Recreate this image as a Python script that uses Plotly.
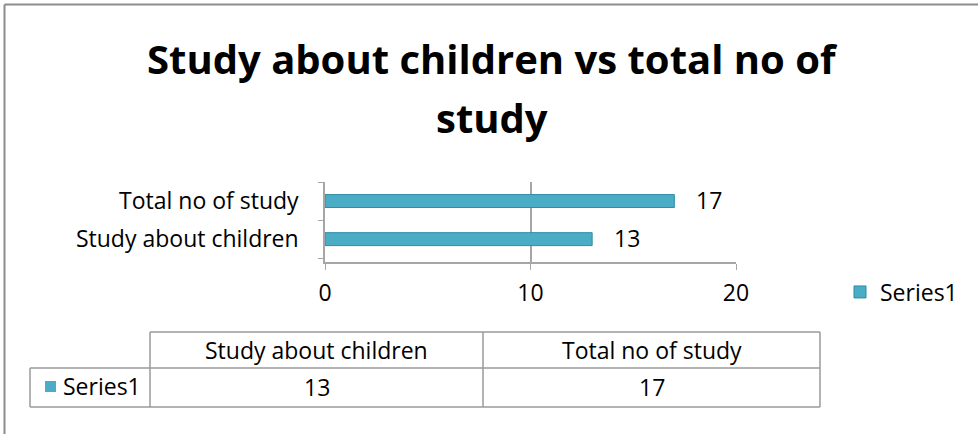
import plotly.graph_objects as go

categories = ["Study about children", "Total no of study"]
values = [13, 17]
series_name = "Series1"
title_lines = ["Study about children vs total no of", "study"]
x_ticks = [0, 10, 20]

BAR = "#4BACC6"
GRID = "#A6A6A6"
FONT = "Open Sans"
FS = 23

L, R, T, B = 325, 736, 182, 262
W, H = 978, 434

def px(x):
    return (x - L) / (R - L)

def py(y):
    return (B - y) / (B - T)

fig = go.Figure()
fig.add_trace(go.Bar(
    y=categories, x=values, orientation="h", name=series_name,
    marker=dict(color=BAR, line=dict(color="#2F8CA6", width=1)),
    width=0.34, showlegend=True, hoverinfo="x+y",
))

shapes = []
# outer frame (left and top)
shapes.append(dict(type="line", xref="paper", yref="paper", x0=px(4.5), x1=px(978), y0=py(4.5), y1=py(4.5), line=dict(color="#8C8C8C", width=2)))
shapes.append(dict(type="line", xref="paper", yref="paper", x0=px(4.5), x1=px(4.5), y0=py(4.5), y1=py(434), line=dict(color="#8C8C8C", width=2)))

# data table
tcol = "#9A9A9A"
def hline(x0, x1, y):
    shapes.append(dict(type="line", xref="paper", yref="paper", x0=px(x0), x1=px(x1), y0=py(y), y1=py(y), line=dict(color=tcol, width=1.5)))
def vline(x, y0, y1):
    shapes.append(dict(type="line", xref="paper", yref="paper", x0=px(x), x1=px(x), y0=py(y0), y1=py(y1), line=dict(color=tcol, width=1.5)))
hline(150, 820, 332)
hline(30, 820, 368)
hline(30, 820, 407)
vline(30, 368, 407)
vline(150, 332, 407)
vline(483, 332, 407)
vline(820, 332, 407)
# legend key in table
shapes.append(dict(type="rect", xref="paper", yref="paper", x0=px(45), x1=px(56), y0=py(381), y1=py(392), fillcolor=BAR, line=dict(width=0)))

annotations = []
# data labels
for c, v in zip(categories, values):
    annotations.append(dict(text=str(v), x=v, y=c, xref="x", yref="y", showarrow=False, xanchor="left", yanchor="middle",
                            xshift=20, yshift=1, font=dict(size=FS, family=FONT, color="#000000")))

annotations.append(dict(text="<b>%s</b>" % title_lines[0], x=px(492), y=py(58), xref="paper", yref="paper", showarrow=False, font=dict(size=40, family=FONT, color="#000000"), xanchor="center", yanchor="middle"))
annotations.append(dict(text="<b>%s</b>" % title_lines[1], x=px(492), y=py(117), xref="paper", yref="paper", showarrow=False, font=dict(size=40, family=FONT, color="#000000"), xanchor="center", yanchor="middle"))

col_centers = [316.5, 651.5]
for c, v, cx in zip(categories, values, col_centers):
    annotations.append(dict(text=c, x=px(cx), y=py(350), xref="paper", yref="paper", showarrow=False, font=dict(size=FS, family=FONT, color="#000000"), xanchor="center", yanchor="middle"))
    annotations.append(dict(text=str(v), x=px(cx), y=py(387), xref="paper", yref="paper", showarrow=False, font=dict(size=FS, family=FONT, color="#000000"), xanchor="center", yanchor="middle"))
annotations.append(dict(text=series_name, x=px(61), y=py(386), xref="paper", yref="paper", showarrow=False, font=dict(size=FS, family=FONT, color="#000000"), xanchor="left", yanchor="middle"))

fig.update_layout(
    width=W, height=H,
    margin=dict(l=L, r=W - R, t=T, b=H - B, pad=0),
    paper_bgcolor="white", plot_bgcolor="white",
    font=dict(family=FONT, size=FS, color="#000000"),
    shapes=shapes, annotations=annotations,
    legend=dict(x=px(840), y=py(292), xanchor="left", yanchor="middle", font=dict(size=FS, family=FONT), itemwidth=30, bgcolor="rgba(0,0,0,0)"),
    xaxis=dict(range=[0, 20], tickvals=x_ticks, showgrid=True, gridcolor=GRID, gridwidth=1.5,
               showline=True, linecolor=GRID, linewidth=1.5, ticks="outside", tickcolor=GRID,
               ticklen=6, ticklabelstandoff=4, zeroline=False, fixedrange=True),
    yaxis=dict(range=[-0.6, 1.5], showgrid=False, showline=True, linecolor=GRID, linewidth=1.5,
               ticks="outside", tickson="boundaries", ticklen=5, tickcolor=GRID,
               ticklabelstandoff=20, fixedrange=True, tickfont=dict(size=FS)),
    bargap=0.5,
)

fig.write_html("out.html")
